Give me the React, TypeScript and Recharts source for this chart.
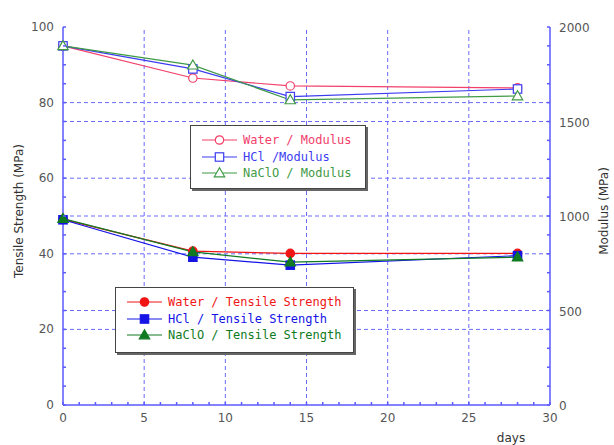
import React from "react"
import { Legend, Line, LineChart, ReferenceLine, XAxis, YAxis } from "recharts"

const days = [0, 8, 14, 28]
const waterModulus = [1900, 1730, 1688, 1678]
const hclModulus = [1900, 1778, 1632, 1672]
const naclModulus = [1900, 1798, 1614, 1635]
const waterTensile = [49.1, 40.7, 40.1, 40.1]
const hclTensile = [49.0, 39.1, 37.0, 39.5]
const naclTensile = [49.3, 40.5, 37.8, 39.1]

const xLabels = [0, 5, 10, 15, 20, 25, 30]
const leftLabels = [0, 20, 40, 60, 80, 100]
const rightLabels = [0, 500, 1000, 1500, 2000]
const xGrid = [5, 10, 15, 20, 25]
const leftGrid = [20, 40, 60, 80]
const rightGrid = [500, 1000, 1500]
const xMinor = Array.from({ length: 31 }, (_, i) => i)
const leftMinor = Array.from({ length: 21 }, (_, i) => i * 5)
const rightMinor = Array.from({ length: 21 }, (_, i) => i * 100)

const data = days.map((day, i) => ({
  day,
  waterModulus: waterModulus[i],
  hclModulus: hclModulus[i],
  naclModulus: naclModulus[i],
  waterTensile: waterTensile[i],
  hclTensile: hclTensile[i],
  naclTensile: naclTensile[i],
}))

type Shape = "circle" | "square" | "triangle"
type Series = { key: string; name: string; color: string; shape: Shape; filled: boolean; axis: string }

const series: Series[] = [
  { key: "waterModulus", name: "Water / Modulus", color: "#f2406a", shape: "circle", filled: false, axis: "right" },
  { key: "hclModulus", name: "HCl /Modulus", color: "#3c3cf0", shape: "square", filled: false, axis: "right" },
  { key: "naclModulus", name: "NaClO / Modulus", color: "#3f9a45", shape: "triangle", filled: false, axis: "right" },
  { key: "waterTensile", name: "Water / Tensile Strength", color: "#f01414", shape: "circle", filled: true, axis: "left" },
  { key: "hclTensile", name: "HCl / Tensile Strength", color: "#1414e6", shape: "square", filled: true, axis: "left" },
  { key: "naclTensile", name: "NaClO / Tensile Strength", color: "#0f7a22", shape: "triangle", filled: true, axis: "left" },
]

const AXIS = "#5a5aff"
const GRID = "#6a6aff"
const FONT = "'DejaVu Sans', sans-serif"
const MONO = "'DejaVu Sans Mono', monospace"
const TICK_TEXT = "#555"

function Marker({ cx, cy, s }: { cx: number; cy: number; s: Series }) {
  const fill = s.filled ? s.color : "#fff"
  if (s.shape === "circle") return <circle cx={cx} cy={cy} r={4.2} fill={fill} stroke={s.color} strokeWidth={1.2} />
  if (s.shape === "square")
    return <rect x={cx - 4.2} y={cy - 4.2} width={8.4} height={8.4} fill={fill} stroke={s.color} strokeWidth={1.2} />
  return (
    <polygon
      points={`${cx},${cy - 5.2} ${cx + 5.2},${cy + 3.8} ${cx - 5.2},${cy + 3.8}`}
      fill={fill}
      stroke={s.color}
      strokeWidth={1.2}
    />
  )
}

const dotFor = (s: Series) => (p: any) => {
  if (p.cx == null || p.cy == null) return <g key={p.index} />
  return (
    <g key={p.index}>
      <Marker cx={p.cx} cy={p.cy} s={s} />
    </g>
  )
}

const BottomTick = (p: any) => {
  const v = p.payload.value
  const major = xLabels.includes(v)
  return (
    <g>
      <line x1={p.x} y1={p.y} x2={p.x} y2={p.y - 3} stroke={AXIS} strokeWidth={1.5} />
      {major && (
        <text x={p.x} y={p.y + 17} textAnchor="middle" fontSize={12} fontFamily={FONT} fill={TICK_TEXT}>
          {v}
        </text>
      )}
    </g>
  )
}

const TopTick = (p: any) => <line x1={p.x} y1={p.y} x2={p.x} y2={p.y + 3} stroke={AXIS} strokeWidth={1.5} />

const LeftTick = (p: any) => {
  const v = p.payload.value
  return (
    <g>
      <line x1={p.x} y1={p.y} x2={p.x + 3} y2={p.y} stroke={AXIS} strokeWidth={1.5} />
      {leftLabels.includes(v) && (
        <text x={p.x - 9} y={p.y + 4} textAnchor="end" fontSize={12} fontFamily={FONT} fill={TICK_TEXT}>
          {v}
        </text>
      )}
    </g>
  )
}

const RightTick = (p: any) => {
  const v = p.payload.value
  return (
    <g>
      <line x1={p.x} y1={p.y} x2={p.x - 3} y2={p.y} stroke={AXIS} strokeWidth={1.5} />
      {rightLabels.includes(v) && (
        <text x={p.x + 9} y={p.y + 5} textAnchor="start" fontSize={12} fontFamily={FONT} fill={TICK_TEXT}>
          {v}
        </text>
      )}
    </g>
  )
}

function LegendBox({ items, left, top, width, height }: { items: Series[]; left: number; top: number; width: number; height: number }) {
  return (
    <div
      style={{
        position: "absolute",
        left,
        top,
        width,
        height,
        boxSizing: "border-box",
        background: "#fff",
        border: "1px solid #444",
        boxShadow: "2px 2px 0 #666",
      }}
    >
      {items.map((s, i) => (
        <div key={s.key} style={{ position: "absolute", left: 0, top: 6 + i * 16.5, height: 16, display: "flex", alignItems: "center" }}>
          <svg width={52} height={16} style={{ display: "block" }}>
            <line x1={11} y1={8} x2={46} y2={8} stroke={s.color} strokeWidth={1.2} />
            <Marker cx={28.5} cy={8} s={s} />
          </svg>
          <span style={{ fontFamily: MONO, fontSize: 12, color: s.color, whiteSpace: "nowrap" }}>{s.name}</span>
        </div>
      ))}
    </div>
  )
}

const LegendContent = () => (
  <div style={{ position: "relative", width: 614, height: 445 }}>
    <LegendBox items={series.slice(0, 3)} left={190} top={125} width={176} height={64} />
    <LegendBox items={series.slice(3)} left={115} top={287} width={239} height={66} />
  </div>
)

export default function App() {
  return (
    <div style={{ position: "absolute", left: 0, top: 0, width: 614, height: 445, background: "#fff" }}>
      <LineChart width={614} height={445} data={data} margin={{ top: 27, right: 0, bottom: 0, left: 0 }}>
        <XAxis
          xAxisId="bottom"
          dataKey="day"
          type="number"
          domain={[0, 30]}
          ticks={xMinor}
          interval={0}
          height={40}
          tickSize={0}
          tickMargin={0}
          tickLine={false}
          axisLine={{ stroke: AXIS, strokeWidth: 1.5 }}
          tick={BottomTick}
          label={({ viewBox }: any) => (
            <text x={viewBox.x + viewBox.width - 39} y={viewBox.y + 37} textAnchor="middle" fontSize={12} fontFamily={FONT} fill="#333">
              days
            </text>
          )}
        />
        <XAxis
          xAxisId="top"
          orientation="top"
          dataKey="day"
          type="number"
          domain={[0, 30]}
          ticks={xMinor}
          interval={0}
          height={0}
          tickSize={0}
          tickMargin={0}
          tickLine={false}
          axisLine={{ stroke: AXIS, strokeWidth: 1.5 }}
          tick={TopTick}
        />
        <YAxis
          yAxisId="left"
          type="number"
          domain={[0, 100]}
          ticks={leftMinor}
          interval={0}
          width={63}
          tickSize={0}
          tickMargin={0}
          tickLine={false}
          axisLine={{ stroke: AXIS, strokeWidth: 1.5 }}
          tick={LeftTick}
          label={({ viewBox }: any) => (
            <text
              x={18}
              y={viewBox.y + viewBox.height / 2}
              transform={`rotate(-90, 18, ${viewBox.y + viewBox.height / 2 - 5})`}
              textAnchor="middle"
              fontSize={12}
              fontFamily={FONT}
              fill="#333"
            >
              Tensile Strength (MPa)
            </text>
          )}
        />
        <YAxis
          yAxisId="right"
          orientation="right"
          type="number"
          domain={[0, 2000]}
          ticks={rightMinor}
          interval={0}
          width={64}
          tickSize={0}
          tickMargin={0}
          tickLine={false}
          axisLine={{ stroke: AXIS, strokeWidth: 1.5 }}
          tick={RightTick}
          label={({ viewBox }: any) => (
            <text
              x={603}
              y={viewBox.y + viewBox.height / 2}
              transform={`rotate(-90, 603, ${viewBox.y + viewBox.height / 2 - 5})`}
              textAnchor="middle"
              fontSize={12}
              fontFamily={FONT}
              fill="#333"
            >
              Modulus (MPa)
            </text>
          )}
        />

        {xGrid.map((v) => (
          <ReferenceLine key={`x${v}`} x={v} xAxisId="bottom" yAxisId="left" stroke={GRID} strokeDasharray="4 3" />
        ))}
        {leftGrid.map((v) => (
          <ReferenceLine key={`l${v}`} y={v} xAxisId="bottom" yAxisId="left" stroke={GRID} strokeDasharray="4 3" />
        ))}
        {rightGrid.map((v) => (
          <ReferenceLine key={`r${v}`} y={v} xAxisId="bottom" yAxisId="right" stroke={GRID} strokeDasharray="4 3" />
        ))}

        {series.map((s) => (
          <Line
            key={s.key}
            xAxisId="bottom"
            yAxisId={s.axis}
            dataKey={s.key}
            name={s.name}
            type="linear"
            stroke={s.color}
            strokeWidth={1.2}
            dot={dotFor(s)}
            activeDot={false}
            isAnimationActive={false}
          />
        ))}

        <Legend
          layout="vertical"
          align="center"
          verticalAlign="middle"
          content={LegendContent}
          wrapperStyle={{ position: "absolute", left: 0, top: 0, width: 614, height: 445, pointerEvents: "none" }}
        />
      </LineChart>
    </div>
  )
}
